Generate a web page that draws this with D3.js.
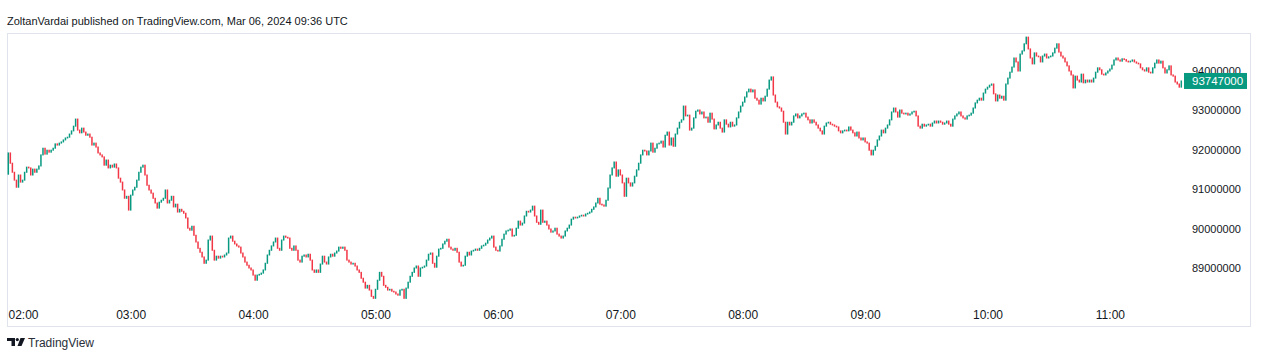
<!DOCTYPE html>
<html>
<head>
<meta charset="utf-8">
<script src="https://cdn.jsdelivr.net/npm/d3@7"></script>
<style>
    html, body { margin: 0; padding: 0; background: #fff; }
    svg { display: block; font-family: "Trebuchet MS", "Liberation Sans", Arial, sans-serif; }
</style>
</head>
<body>
<div id="chart"></div>
<script>
// chart data (prices in thousands, one candle per minute, open = previous close)
const title = 'ZoltanVardai published on TradingView.com, Mar 06, 2024 09:36 UTC';
const startTime = '2024-03-06T02:00:00Z';
const firstOpen = 91380;
const closes = [
    91920, 91660, 91430, 91230, 91050, 91360, 91180, 91230, 91430, 91560, 91540, 91360, 91510, 91430, 91510, 91590, 91870, 92040, 91890, 91990,
    91940, 91990, 92040, 92150, 92120, 92170, 92200, 92250, 92300, 92320, 92400, 92480, 92600, 92780, 92500, 92430, 92550, 92450, 92370, 92400,
    92320, 92120, 92170, 92070, 91920, 91870, 91820, 91610, 91740, 91540, 91610, 91560, 91640, 91540, 91280, 91180, 90980, 90770, 90820, 90470,
    90850, 90980, 91050, 91230, 91430, 91560, 91610, 91360, 91100, 90980, 90900, 90770, 90650, 90520, 90670, 90720, 90770, 90980, 90650, 90720,
    90820, 90550, 90620, 90420, 90490, 90440, 90390, 90270, 90010, 89960, 90060, 89830, 89660, 89500, 89400, 89280, 89120, 89200, 89710, 89810,
    89450, 89200, 89300, 89250, 89300, 89280, 89330, 89380, 89760, 89810, 89680, 89610, 89560, 89530, 89380, 89280, 89150, 89070, 89000, 88950,
    88820, 88690, 88820, 88840, 88870, 88950, 89120, 89330, 89450, 89560, 89660, 89760, 89500, 89450, 89710, 89810, 89780, 89760, 89500, 89450,
    89560, 89450, 89200, 89150, 89300, 89330, 89280, 89350, 89200, 88950, 88890, 88950, 88890, 89100, 89300, 89150, 89100, 89280, 89350, 89300,
    89380, 89430, 89530, 89500, 89530, 89450, 89200, 89150, 89100, 89120, 89050, 88950, 88890, 88740, 88640, 88490, 88560, 88440, 88280, 88230,
    88460, 88690, 88890, 88790, 88560, 88510, 88440, 88460, 88410, 88390, 88340, 88310, 88440, 88460, 88230, 88490, 88640, 88790, 88890, 89000,
    89050, 88790, 89000, 89020, 89050, 89200, 89350, 89380, 89120, 89020, 89300, 89480, 89500, 89610, 89680, 89730, 89530, 89480, 89450, 89500,
    89400, 89150, 89050, 89070, 89300, 89400, 89330, 89430, 89450, 89480, 89450, 89500, 89560, 89580, 89630, 89710, 89760, 89810, 89530, 89450,
    89430, 89560, 89730, 89860, 89940, 89960, 89990, 89810, 89830, 90010, 90190, 90090, 90140, 90320, 90440, 90420, 90470, 90570, 90320, 90160,
    90110, 90470, 90160, 90190, 90090, 89990, 89910, 89940, 90010, 89860, 89810, 89760, 89810, 89940, 90010, 90090, 90240, 90290, 90270, 90290,
    90320, 90340, 90320, 90370, 90390, 90420, 90490, 90550, 90650, 90770, 90620, 90600, 90570, 90720, 91030, 91360, 91540, 91690, 91330, 91490,
    91360, 91160, 90820, 91280, 91160, 91080, 91160, 91330, 91490, 91660, 91870, 91990, 91970, 91870, 91970, 92170, 91940, 92040, 92150, 92170,
    92220, 92070, 92370, 92450, 92120, 92300, 92090, 92400, 92550, 92700, 92760, 93110, 92860, 92880, 92500, 92550, 92810, 92980, 93010, 92910,
    92960, 92810, 92830, 92700, 92930, 92780, 92530, 92630, 92700, 92550, 92450, 92760, 92650, 92580, 92700, 92600, 92630, 92810, 92960, 93110,
    93210, 93340, 93470, 93540, 93470, 93520, 93310, 93260, 93160, 93310, 93240, 93360, 93540, 93770, 93850, 93390, 93210, 93090, 93060, 92980,
    92700, 92400, 92700, 92630, 92700, 92860, 92910, 92810, 92860, 92910, 92930, 92830, 92760, 92680, 92760, 92700, 92630, 92550, 92480, 92400,
    92600, 92680, 92700, 92650, 92630, 92600, 92580, 92480, 92430, 92480, 92500, 92480, 92580, 92500, 92430, 92350, 92450, 92300, 92250, 92300,
    92200, 92170, 91990, 91870, 91990, 92090, 92250, 92350, 92500, 92430, 92550, 92630, 92760, 92960, 93060, 92960, 92830, 93010, 92930, 92910,
    92930, 92880, 92910, 92960, 92980, 92860, 92600, 92550, 92650, 92600, 92630, 92650, 92600, 92680, 92730, 92680, 92730, 92700, 92650, 92680,
    92730, 92650, 92600, 92780, 92860, 92910, 92960, 92860, 92810, 92780, 92860, 92880, 92930, 93060, 93190, 93260, 93310, 93260, 93440, 93540,
    93590, 93640, 93670, 93420, 93240, 93390, 93310, 93360, 93260, 93670, 93820, 93970, 94100, 94330, 94230, 94000, 94430, 94510, 94690, 94860,
    94560, 94330, 94180, 94460, 94380, 94360, 94230, 94380, 94430, 94330, 94360, 94380, 94460, 94580, 94690, 94480, 94380, 94330, 94230, 94130,
    94000, 93900, 93570, 93870, 93770, 93720, 93920, 93700, 93770, 93720, 93770, 93720, 93820, 93970, 94080, 94030, 93920, 93900, 93950, 94000,
    94050, 94150, 94280, 94330, 94280, 94250, 94310, 94290, 94250, 94230, 94250, 94280, 94230, 94200, 94180, 94080, 94030, 94000, 94080, 93970,
    93950, 94080, 94200, 94280, 94200, 94250, 94080, 93950, 94030, 94130, 93900, 93870, 93720, 93670, 93590, 93747
];
const priceTicks = [89000000, 90000000, 91000000, 92000000, 93000000, 94000000];
const timeTicks = ['02:00', '03:00', '04:00', '05:00', '06:00', '07:00', '08:00', '09:00', '10:00', '11:00'];
const lastPrice = 93747000;

function CandleChart(config) {
    this.width = config.width;
    this.height = config.height;
    this.upColor = config.upColor || '#089981';
    this.downColor = config.downColor || '#f23645';
    this.textColor = config.textColor || '#131722';
    this.frame = config.frame;
    this.prepareData();
}

CandleChart.prototype.prepareData = function() {
    let t0 = new Date(startTime);
    let prev = firstOpen * 1000;
    this.data = closes.map(function(c, i) {
        let d = { t: new Date(t0.getTime() + i * 60000), o: prev, c: c * 1000 };
        prev = d.c;
        return d;
    });
}

CandleChart.prototype.init = function(domElem) {
    this.root = d3.select(domElem);
    this.svg = this.root.append('svg')
        .attr('width', this.width)
        .attr('height', this.height);

    this.x = d3.scaleTime()
        .domain([this.data[0].t, this.data[this.data.length - 1].t])
        .range([8.3, 1181.3]);
    this.y = d3.scaleLinear()
        .domain([89000000, 94000000])
        .range([268, 71]);

    this.drawFrame();
    this.drawAxis();
    this.drawCandles();
    this.drawLastPrice();
    this.drawFooter();
}

CandleChart.prototype.drawFrame = function() {
    let f = this.frame;
    this.svg.append('text')
        .attr('x', 7)
        .attr('y', 25)
        .attr('font-size', 11)
        .attr('fill', this.textColor)
        .text(title);

    this.svg.append('rect')
        .attr('x', f.left + 0.5)
        .attr('y', f.top + 0.5)
        .attr('width', f.right - f.left)
        .attr('height', f.bottom - f.top)
        .attr('fill', 'none')
        .attr('stroke', '#e0e3eb');
}

CandleChart.prototype.drawAxis = function() {
    let self = this;
    let yAxis = d3.axisRight(this.y)
        .tickValues(priceTicks)
        .tickFormat(d3.format('d'))
        .tickSize(0)
        .tickPadding(0);
    let yg = this.svg.append('g')
        .attr('transform', 'translate(1192,0)')
        .call(yAxis);
    yg.select('.domain').remove();
    yg.selectAll('text')
        .attr('font-size', 11)
        .attr('font-family', null)
        .attr('fill', this.textColor);

    let day = startTime.slice(0, 10);
    let tickDates = timeTicks.map(function(s) { return new Date(day + 'T' + s + ':00Z'); });
    let xAxis = d3.axisBottom(this.x)
        .tickValues(tickDates)
        .tickFormat(d3.utcFormat('%H:%M'))
        .tickSize(0)
        .tickPadding(0);
    let xg = this.svg.append('g')
        .attr('transform', 'translate(0,310)')
        .call(xAxis);
    xg.select('.domain').remove();
    xg.selectAll('text')
        .attr('font-size', 12)
        .attr('font-family', null)
        .attr('fill', this.textColor);

    // keep first label inside the frame like TradingView does
    xg.selectAll('.tick').each(function(d) {
        let t = d3.select(this).select('text');
        let box = t.node().getBBox();
        let left = self.x(d) + box.x;
        if (left < self.frame.left + 1) {
            t.attr('x', self.frame.left + 1 - left);
        }
    });
}

CandleChart.prototype.drawCandles = function() {
    let self = this;
    this.svg.append('g')
        .selectAll('rect')
        .data(this.data)
        .enter()
        .append('rect')
            .attr('x', function(d) { return self.x(d.t) - 0.75; })
            .attr('width', 1.5)
            .attr('y', function(d) { return Math.min(self.y(d.o), self.y(d.c)) - 0.5; })
            .attr('height', function(d) { return Math.max(1.5, Math.abs(self.y(d.o) - self.y(d.c)) + 1); })
            .attr('fill', function(d) { return d.c >= d.o ? self.upColor : self.downColor; });
}

CandleChart.prototype.drawLastPrice = function() {
    let yy = this.y(lastPrice);
    this.svg.append('rect')
        .attr('x', 1184)
        .attr('y', yy - 8)
        .attr('width', 63)
        .attr('height', 16)
        .attr('fill', this.upColor);
    this.svg.append('text')
        .attr('x', 1192)
        .attr('y', yy)
        .attr('dy', '0.35em')
        .attr('font-size', 11.5)
        .attr('fill', '#fff')
        .text(d3.format('d')(lastPrice));
}

CandleChart.prototype.drawFooter = function() {
    let g = this.svg.append('g').attr('fill', this.textColor);
    g.append('path').attr('d', 'M7,338H15V346H11.5V341H7Z');
    g.append('circle').attr('cx', 17.3).attr('cy', 339.6).attr('r', 1.6);
    g.append('path').attr('d', 'M20.5,338H25L21.5,346H17.5Z');
    g.append('text')
        .attr('x', 28)
        .attr('y', 346.5)
        .attr('font-size', 12)
        .attr('fill', '#2a2e39')
        .text('TradingView');
}

let chart = new CandleChart({
    width: 1274,
    height: 352,
    frame: { left: 7, top: 33, right: 1250, bottom: 326 }
});
chart.init('#chart');
</script>
</body>
</html>
